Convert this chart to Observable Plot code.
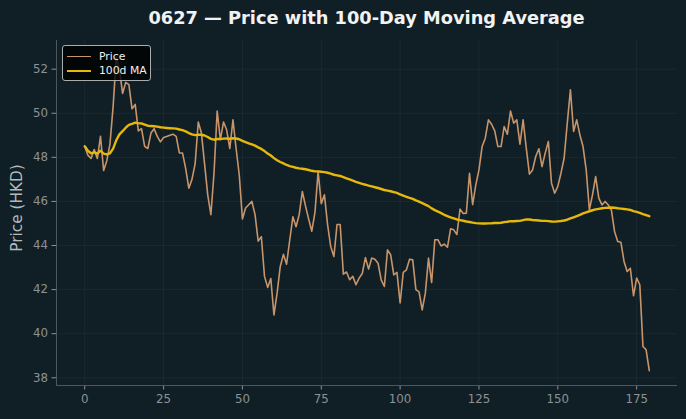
<!DOCTYPE html>
<html>
<head>
<meta charset="utf-8">
<script src="https://cdn.jsdelivr.net/npm/d3@7"></script>
<script src="https://cdn.jsdelivr.net/npm/@observablehq/plot@0.6"></script>
<style>
  body { margin: 0; background: #101f26; width: 686px; height: 419px; overflow: hidden;
         font-family: "DejaVu Sans", sans-serif; position: relative; }
  #chart { position: absolute; left: 0; top: 0; }
  #title { position: absolute; left: 56px; top: 7px; width: 621px; text-align: center;
           color: #f2f2f2; font-weight: bold; font-size: 17.8px; line-height: 22px; }
  #ylabel { position: absolute; left: 17px; top: 208px; transform: translate(-50%, -50%) rotate(-90deg);
            color: #b4b9bc; font-size: 15.3px; white-space: nowrap; }
  #legend { position: absolute; left: 62px; top: 45px; width: 87px; height: 34px;
            background: rgba(0, 0, 0, 0.8); border: 1px solid #a9adb0; border-radius: 3px;
            font-size: 10.8px; color: #f0f0f0; }
  .row { position: absolute; left: 4px; height: 14px; display: flex; align-items: center; }
  .swatch { width: 24px; margin-right: 8px; }
</style>
</head>
<body>
<div id="chart"></div>
<div id="title">0627 — Price with 100-Day Moving Average</div>
<div id="ylabel">Price (HKD)</div>
<div id="legend"></div>
<script>
// Daily closing price (HKD), trading days 0–179
const price = [
  48.5, 48.1, 47.95, 48.35, 47.95, 48.95, 47.4, 47.85, 48.6, 50.3,
  52.55, 52.0, 50.9, 51.4, 51.3, 50.2, 50.4, 49.2, 49.3, 48.5,
  48.4, 49.1, 49.3, 48.95, 48.7, 48.9, 48.95, 49.0, 49.05, 48.95,
  48.2, 48.2, 47.5, 46.6, 47.0, 47.7, 49.6, 49.1, 47.7, 46.3,
  45.4, 47.3, 50.1, 48.8, 49.6, 49.25, 48.4, 49.7, 48.4, 47.2,
  45.2, 45.7, 45.85, 46.0, 45.4, 44.2, 44.4, 42.6, 42.1, 42.5,
  40.85, 41.85, 43.05, 43.6, 43.15, 44.25, 45.3, 44.85, 45.4, 46.45,
  45.8, 45.2, 44.65, 45.5, 47.35, 45.9, 46.3, 44.95, 43.95, 43.5,
  44.95, 44.95, 42.7, 42.8, 42.45, 42.6, 42.22, 42.52, 42.73, 43.45,
  42.93, 43.43, 43.38, 43.2, 42.44, 42.14, 43.8, 43.58, 42.67, 42.78,
  41.4, 42.78, 42.9, 43.38, 43.35, 42.0, 41.9, 41.08, 41.84, 43.43,
  42.32, 44.26, 44.26, 43.98, 44.06, 43.92, 44.76, 44.71, 44.5, 45.65,
  45.45, 45.47, 47.28, 45.85, 46.75, 47.43, 48.49, 48.87, 49.7, 49.5,
  49.2, 48.49, 48.49, 49.4, 49.05, 50.1, 49.55, 49.7, 48.6, 49.7,
  48.42, 47.24, 47.43, 48.04, 48.39, 47.58, 48.19, 48.72, 46.83, 46.37,
  46.68, 47.28, 47.96, 49.55, 51.06, 49.17, 49.7, 49.02, 48.49, 47.43,
  45.62, 46.3, 47.13, 46.15, 45.84, 46.0, 45.84, 45.6, 44.63, 44.18,
  44.15, 43.28, 42.82, 42.97, 41.72, 42.52, 42.22, 39.42, 39.27, 38.32
];

const maWindow = 100;
const xTicks = [0, 25, 50, 75, 100, 125, 150, 175];
const yTicks = [38, 40, 42, 44, 46, 48, 50, 52];
const seriesNames = ["Price", "100d MA"];
const seriesColors = ["#c8956b", "#e5b80b"];

// Rows for the chart; the moving average uses whatever days are available
// until a full 100-day window exists.
const rows = price.map((p, i) => ({
  day: i,
  price: p,
  ma: d3.mean(price.slice(Math.max(0, i - maWindow + 1), i + 1))
}));

const xDomain = [-8.95, 187.95];
const yDomain = [37.65, 53.3];
const axisColor = "#4e575c";
const tickColor = "#8d9295";

const chart = Plot.plot({
  width: 686,
  height: 419,
  marginLeft: 56,
  marginRight: 9,
  marginTop: 40,
  marginBottom: 34,
  style: { background: "transparent", fontFamily: "DejaVu Sans, sans-serif" },
  x: { domain: xDomain },
  y: { domain: yDomain },
  marks: [
    Plot.gridX(xTicks, { stroke: "#ffffff", strokeOpacity: 0.045, strokeWidth: 1 }),
    Plot.gridY(yTicks, { stroke: "#ffffff", strokeOpacity: 0.045, strokeWidth: 1 }),
    Plot.axisX(xTicks, { tickSize: 4.5, tickPadding: 5, stroke: tickColor, color: tickColor,
                         fontSize: 11.8, label: null }),
    Plot.axisY(yTicks, { tickSize: 4.5, tickPadding: 4, stroke: tickColor, color: tickColor,
                         fontSize: 11.8, label: null }),
    Plot.ruleX([xDomain[0]], { stroke: axisColor, strokeWidth: 1 }),
    Plot.ruleY([yDomain[0]], { stroke: axisColor, strokeWidth: 1 }),
    Plot.line(rows, { x: "day", y: "price", stroke: seriesColors[0], strokeWidth: 1.6 }),
    Plot.line(rows, { x: "day", y: "ma", stroke: seriesColors[1], strokeWidth: 2.4 })
  ]
});
document.getElementById("chart").append(chart);

// Legend entries
const legend = document.getElementById("legend");
seriesNames.forEach((name, k) => {
  const row = document.createElement("div");
  row.className = "row";
  row.style.top = (3 + k * 14.5) + "px";
  const sw = document.createElement("div");
  sw.className = "swatch";
  sw.style.borderTop = (k === 0 ? 1.6 : 2.4) + "px solid " + seriesColors[k];
  const label = document.createElement("span");
  label.textContent = name;
  row.append(sw, label);
  legend.append(row);
});
</script>
</body>
</html>
